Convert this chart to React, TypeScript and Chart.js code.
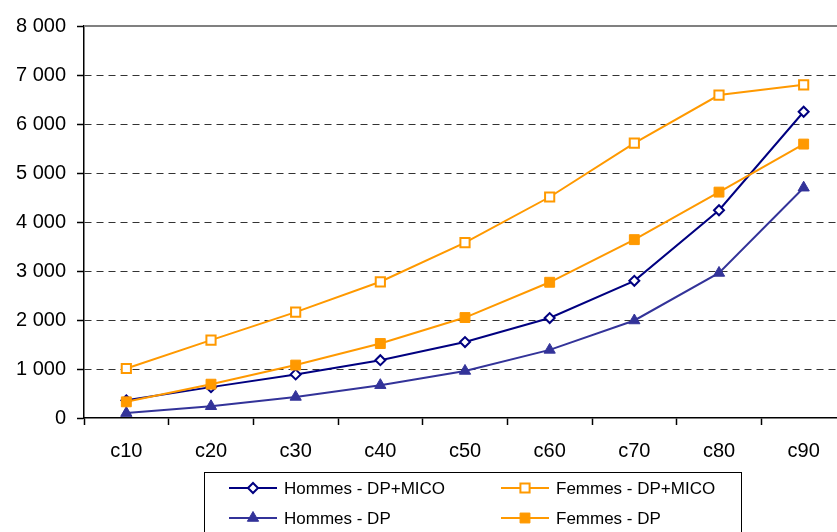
import React, { useEffect, useRef } from 'react';
import { Chart, registerables } from 'chart.js';
import { drawPoint } from 'chart.js/helpers';

Chart.register(...registerables);

const categories = ['c10', 'c20', 'c30', 'c40', 'c50', 'c60', 'c70', 'c80', 'c90'];
const hommesDpMico = [360, 630, 890, 1180, 1550, 2040, 2800, 4240, 6250];
const femmesDpMico = [1010, 1590, 2160, 2780, 3580, 4510, 5610, 6590, 6800];
const hommesDp = [100, 240, 430, 670, 960, 1390, 1990, 2960, 4700];
const femmesDp = [330, 690, 1080, 1520, 2050, 2770, 3640, 4610, 5590];
const yTicks = [0, 1000, 2000, 3000, 4000, 5000, 6000, 7000, 8000];

const FONT = 'Liberation Sans, Arial, sans-serif';

const formatNumber = (v: number) => String(v).replace(/\B(?=(\d{3})+(?!\d))/g, ' ');

// solid grey line on top of the plot area (the 8000 line)
const topBorder = {
  id: 'topBorder',
  beforeDatasetsDraw(chart: any) {
    const { ctx, chartArea } = chart;
    ctx.save();
    ctx.strokeStyle = '#808080';
    ctx.lineWidth = 2;
    ctx.beginPath();
    ctx.moveTo(chartArea.left, chartArea.top);
    ctx.lineTo(chartArea.right, chartArea.top);
    ctx.stroke();
    ctx.restore();
  },
};

// Excel-like legend: boxed, two columns, line + marker
const boxLegend = {
  id: 'boxLegend',
  afterDraw(chart: any) {
    const ctx = chart.ctx;
    ctx.save();
    ctx.strokeStyle = '#000';
    ctx.lineWidth = 1;
    ctx.strokeRect(204.5, 472.5, 537, 80);

    const cols = [229, 501];
    const rows = [488, 518];
    chart.data.datasets.forEach((ds: any, i: number) => {
      const x = cols[i % 2];
      const y = rows[Math.floor(i / 2)];
      ctx.strokeStyle = ds.borderColor;
      ctx.lineWidth = 2;
      ctx.beginPath();
      ctx.moveTo(x, y);
      ctx.lineTo(x + 48, y);
      ctx.stroke();

      ctx.fillStyle = ds.pointBackgroundColor;
      ctx.strokeStyle = ds.pointBorderColor;
      ctx.lineWidth = ds.pointBorderWidth;
      drawPoint(ctx, {
        pointStyle: ds.pointStyle,
        radius: ds.pointRadius,
        rotation: 0,
        borderWidth: ds.pointBorderWidth,
      }, x + 24, y);

      ctx.fillStyle = '#000';
      ctx.font = `17px ${FONT}`;
      ctx.textBaseline = 'middle';
      ctx.textAlign = 'left';
      ctx.fillText(ds.label, x + 55, y + 1);
    });
    ctx.restore();
  },
};

const App = () => {
  const chartRef = useRef<HTMLCanvasElement | null>(null);
  const chartInstanceRef = useRef<Chart | null>(null);

  useEffect(() => {
    const canvas = chartRef.current;
    if (!canvas) return;
    const ctx = canvas.getContext('2d');
    if (!ctx) return;

    if (chartInstanceRef.current) {
      chartInstanceRef.current.destroy();
    }

    chartInstanceRef.current = new Chart(ctx, {
      type: 'line',
      data: {
        labels: categories,
        datasets: [
          {
            label: 'Hommes - DP+MICO',
            data: hommesDpMico,
            borderColor: '#000080',
            borderWidth: 2,
            pointStyle: 'rectRot',
            pointRadius: 5,
            pointBackgroundColor: '#ffffff',
            pointBorderColor: '#000080',
            pointBorderWidth: 2,
            tension: 0,
            order: 4,
          },
          {
            label: 'Femmes - DP+MICO',
            data: femmesDpMico,
            borderColor: '#ff9900',
            borderWidth: 2,
            pointStyle: 'rect',
            pointRadius: 6.5,
            pointBackgroundColor: '#ffffff',
            pointBorderColor: '#ff9900',
            pointBorderWidth: 2,
            tension: 0,
            order: 3,
          },
          {
            label: 'Hommes - DP',
            data: hommesDp,
            borderColor: '#333399',
            borderWidth: 2,
            pointStyle: 'triangle',
            pointRadius: 6.5,
            pointBackgroundColor: '#333399',
            pointBorderColor: '#333399',
            pointBorderWidth: 1,
            tension: 0,
            order: 2,
          },
          {
            label: 'Femmes - DP',
            data: femmesDp,
            borderColor: '#ff9900',
            borderWidth: 2,
            pointStyle: 'rect',
            pointRadius: 7,
            pointBackgroundColor: '#ff9900',
            pointBorderColor: '#ff9900',
            pointBorderWidth: 1,
            tension: 0,
            order: 1,
          },
        ],
      },
      options: {
        responsive: false,
        animation: false,
        layout: { padding: { top: 26, right: 14, left: 0, bottom: 0 } },
        plugins: {
          legend: { display: false },
          tooltip: { enabled: false },
        },
        scales: {
          x: {
            offset: true,
            afterFit: (scale: any) => { scale.height = 114; },
            grid: {
              offset: true,
              drawOnChartArea: false,
              drawTicks: true,
              tickLength: 7,
              tickColor: '#000',
              tickWidth: 1.5,
            },
            border: { color: '#000', width: 1.5 },
            ticks: {
              color: '#000',
              padding: 14,
              font: { family: FONT, size: 20 },
            },
          },
          y: {
            min: 0,
            max: 8000,
            afterFit: (scale: any) => { scale.width = 84; },
            afterBuildTicks: (scale: any) => {
              scale.ticks = yTicks.map((v) => ({ value: v }));
            },
            grid: {
              color: (c: any) =>
                c.tick && (c.tick.value === 0 || c.tick.value === 8000) ? 'rgba(0,0,0,0)' : '#333',
              lineWidth: 1,
              drawTicks: true,
              tickLength: 7,
              tickColor: '#000',
              tickWidth: 1.5,
            },
            border: { color: '#000', width: 1.5, dash: [7, 5] },
            ticks: {
              color: '#000',
              padding: 11,
              font: { family: FONT, size: 20 },
              callback: (v: any) => formatNumber(Number(v)),
            },
          },
        },
      },
      plugins: [topBorder, boxLegend],
    } as any);

    return () => {
      if (chartInstanceRef.current) {
        chartInstanceRef.current.destroy();
        chartInstanceRef.current = null;
      }
    };
  }, []);

  return (
    <div style={{ position: 'fixed', left: 0, top: 0, width: 837, height: 532, overflow: 'hidden', background: '#fff' }}>
      <canvas ref={chartRef} width={860} height={532}></canvas>
    </div>
  );
};

export default App;
